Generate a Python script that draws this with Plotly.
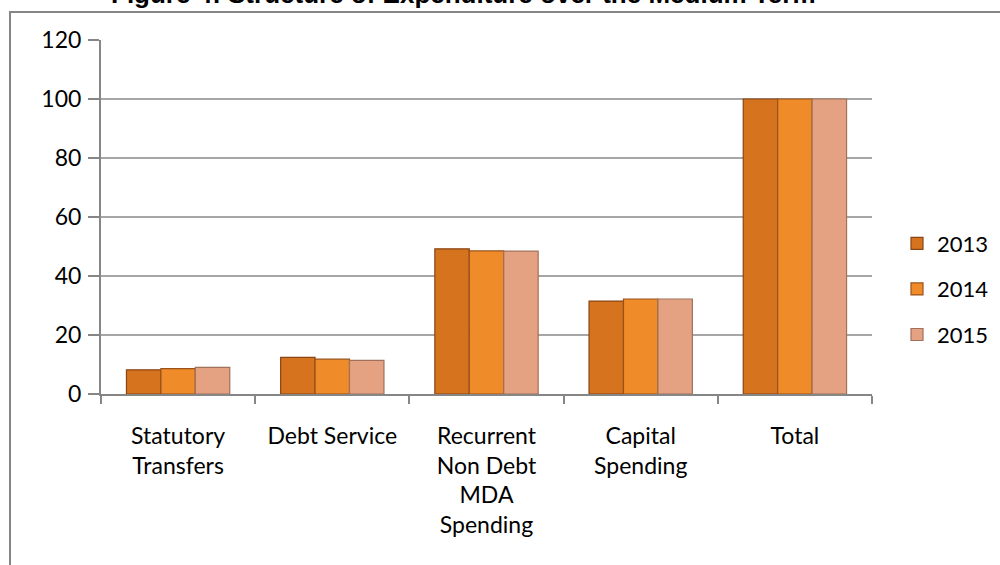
import plotly.graph_objects as go

categories = ["Statutory<br>Transfers", "Debt Service", "Recurrent<br>Non Debt<br>MDA<br>Spending",
              "Capital<br>Spending", "Total"]
years = ["2013", "2014", "2015"]
values_2013 = [8.2, 12.4, 49.2, 31.5, 100]
values_2014 = [8.6, 11.8, 48.5, 32.2, 100]
values_2015 = [9.0, 11.4, 48.4, 32.2, 100]
y_ticks = [0, 20, 40, 60, 80, 100, 120]
title_text = "Figure 4: Structure of Expenditure over the Medium Term"

series = [values_2013, values_2014, values_2015]
fills = ["#D5731F", "#F08B2A", "#E5A283"]
edges = ["#8A4514", "#9A5218", "#A0705A"]

FONT = "Lato"
fig = go.Figure()
for i, (yr, vals) in enumerate(zip(years, series)):
    fig.add_trace(go.Bar(
        x=categories, y=vals, name=yr, legendgroup=yr,
        marker=dict(color=fills[i], line=dict(color=edges[i], width=1.2)),
    ))

fig.update_layout(
    width=1000, height=565,
    margin=dict(l=101, r=128, t=40, b=171, autoexpand=False),
    paper_bgcolor="white", plot_bgcolor="white",
    barmode="group", bargap=0.33, bargroupgap=0,
    font=dict(family=FONT, size=22, color="black"),
    showlegend=True,
    legend=dict(xref="container", yref="container", x=0.897, xanchor="left",
                y=1 - 289 / 565, yanchor="middle",
                font=dict(size=22), tracegroupgap=14, itemwidth=30),
    xaxis=dict(showline=True, linecolor="#868686", linewidth=2,
               ticks="outside", tickson="boundaries", ticklen=8, tickcolor="#868686",
               tickwidth=2, showgrid=False, tickfont=dict(size=23), ticklabelstandoff=20),
    yaxis=dict(range=[0, 120], tickvals=y_ticks, showline=True, linecolor="#868686",
               linewidth=2, ticks="outside", ticklen=11, tickcolor="#868686", tickwidth=2,
               showgrid=True, gridcolor="#A6A6A6", gridwidth=1.5, zeroline=False,
               tickfont=dict(size=23), ticklabelstandoff=2),
    shapes=[dict(type="rect", xref="paper", yref="paper",
                 x0=-0.118, x1=1.3, y0=-0.8, y1=1.079,
                 line=dict(color="#868686", width=2), layer="below")],
    annotations=[dict(text="<b>" + title_text + "</b>", xref="paper", yref="paper",
                      x=0.47, y=1.082, yanchor="bottom", xanchor="center", showarrow=False,
                      font=dict(family="Liberation Sans", size=26, color="black"))],
)

fig.write_html("out.html")
